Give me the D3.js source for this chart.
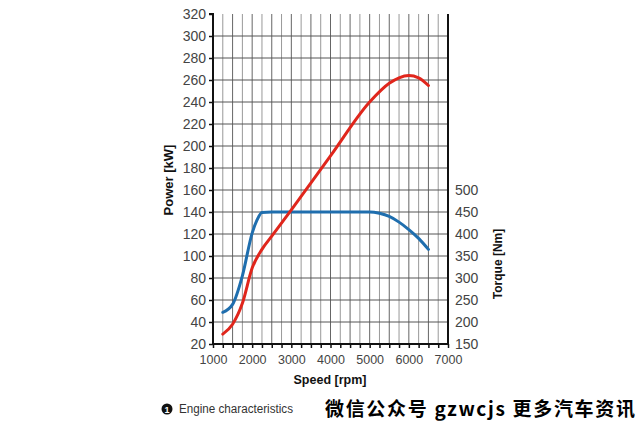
<!DOCTYPE html>
<html>
<head>
<meta charset="utf-8">
<script src="https://cdn.jsdelivr.net/npm/d3@7"></script>
<style>
  body { margin: 0; background: #fff; }
  svg { display: block; font-family: "Liberation Sans", Arial, sans-serif; }
</style>
</head>
<body>
<svg id="chart" width="640" height="426"></svg>
<script>
// power curve (red)
var powerSpeed = [1250, 1500, 1750, 2000, 2250, 2500, 3000, 4000, 5000, 5500, 5750, 6000, 6250, 6500];
var powerKw    = [29, 38, 57, 89, 106, 118, 142, 191, 240, 257, 262, 264, 262, 255];

// torque curve (blue)
var torqueSpeed = [1250, 1500, 1750, 2000, 2125, 2250, 2500, 3000, 4000, 5000, 5250, 5500, 5750, 6000, 6250, 6500];
var torqueNm    = [222, 240, 305, 402, 432, 449, 450, 450, 450, 450, 447, 440, 427, 410, 390, 365];

var powerTicks  = [20, 40, 60, 80, 100, 120, 140, 160, 180, 200, 220, 240, 260, 280, 300, 320];
var torqueTicks = [150, 200, 250, 300, 350, 400, 450, 500];
var speedTicks  = [1000, 2000, 3000, 4000, 5000, 6000, 7000];

var svg = d3.select("#chart");

var x = d3.scaleLinear().domain([1000, 7000]).range([213, 448]);
var y = d3.scaleLinear().domain([20, 320]).range([344, 14]);
// torque 150 sits on power 20, 50 Nm per 20 kW
var yT = d3.scaleLinear().domain([150, 900]).range([344, 14]);

// grid
var grid = svg.append("g");
grid.selectAll(".vg")
  .data(d3.range(1250, 7000, 250))
  .enter().append("line")
  .attr("x1", function(d) { return x(d); })
  .attr("x2", function(d) { return x(d); })
  .attr("y1", y(320)).attr("y2", y(20))
  .attr("stroke", function(d) { return d % 500 == 0 ? "#666" : "#999"; })
  .attr("stroke-width", 1);

grid.selectAll(".hg")
  .data(powerTicks.filter(function(d) { return d > 20 && d < 320; }))
  .enter().append("line")
  .attr("x1", x(1000)).attr("x2", x(7000))
  .attr("y1", function(d) { return y(d); })
  .attr("y2", function(d) { return y(d); })
  .attr("stroke", "#555")
  .attr("stroke-width", 1);

// axes
var yAxis = d3.axisLeft(y).tickValues(powerTicks).tickSize(4).tickPadding(3);
var gy = svg.append("g").attr("transform", "translate(" + x(1000) + ",0)").call(yAxis);
gy.select(".domain").attr("stroke", "#111").attr("stroke-width", 2).attr("d", "M-4," + y(320) + "H0V" + y(20));
gy.selectAll(".tick line").attr("stroke", "#111").attr("stroke-width", 1.5);
gy.selectAll(".tick text").attr("font-size", 14).attr("fill", "#444").attr("font-family", "Liberation Sans, Arial, sans-serif");

var xAxis = d3.axisBottom(x).tickValues(d3.range(1000, 7001, 250)).tickSize(4)
  .tickFormat(function(d) { return speedTicks.indexOf(d) >= 0 ? d : ""; });
var gx = svg.append("g").attr("transform", "translate(0," + y(20) + ")").call(xAxis);
gx.select(".domain").attr("stroke", "#111").attr("stroke-width", 2).attr("d", "M" + x(1000) + ",0H" + x(7000));
gx.selectAll(".tick line").attr("stroke", "#111").attr("stroke-width", 1.5);
gx.selectAll(".tick text").attr("font-size", 12.5).attr("fill", "#444").attr("dy", "1.05em")
  .attr("font-family", "Liberation Sans, Arial, sans-serif");

var tAxis = d3.axisRight(yT).tickValues(torqueTicks).tickSize(0).tickPadding(7);
var gt = svg.append("g").attr("transform", "translate(" + x(7000) + ",0)").call(tAxis);
gt.select(".domain").attr("stroke", "#111").attr("stroke-width", 2).attr("d", "M0," + y(320) + "V" + (y(20) + 1));
gt.selectAll(".tick text").attr("font-size", 14).attr("fill", "#444").attr("font-family", "Liberation Sans, Arial, sans-serif");

// curves
var torqueLine = d3.line()
  .x(function(d, i) { return x(torqueSpeed[i]); })
  .y(function(d) { return yT(d); })
  .curve(d3.curveMonotoneX);
svg.append("path")
  .attr("d", torqueLine(torqueNm))
  .attr("fill", "none")
  .attr("stroke", "#1f6eae")
  .attr("stroke-width", 3)
  .attr("stroke-linecap", "round");

var powerLine = d3.line()
  .x(function(d, i) { return x(powerSpeed[i]); })
  .y(function(d) { return y(d); })
  .curve(d3.curveMonotoneX);
svg.append("path")
  .attr("d", powerLine(powerKw))
  .attr("fill", "none")
  .attr("stroke", "#e0261c")
  .attr("stroke-width", 3)
  .attr("stroke-linecap", "round");

// titles
svg.append("text")
  .attr("transform", "translate(173,180) rotate(-90)")
  .attr("text-anchor", "middle")
  .attr("font-weight", "bold").attr("font-size", 13).attr("fill", "#111")
  .text("Power [kW]");

svg.append("text")
  .attr("transform", "translate(502,264) rotate(-90)")
  .attr("text-anchor", "middle")
  .attr("font-weight", "bold").attr("font-size", 12).attr("fill", "#111")
  .text("Torque [Nm]");

svg.append("text")
  .attr("x", 330).attr("y", 384)
  .attr("text-anchor", "middle")
  .attr("font-weight", "bold").attr("font-size", 12.5).attr("fill", "#111")
  .text("Speed [rpm]");

// caption
svg.append("circle").attr("cx", 167).attr("cy", 409).attr("r", 5.5).attr("fill", "#111");
svg.append("text").attr("x", 167).attr("y", 412.5).attr("text-anchor", "middle")
  .attr("font-size", 9).attr("font-weight", "bold").attr("fill", "#fff").text("1");
svg.append("text")
  .attr("x", 179).attr("y", 413)
  .attr("font-size", 12).attr("fill", "#333")
  .attr("textLength", 114).attr("lengthAdjust", "spacingAndGlyphs")
  .text("Engine characteristics");

svg.append("text")
  .attr("x", 325).attr("y", 416)
  .attr("font-family", "Noto Sans CJK SC, sans-serif")
  .attr("font-weight", "bold").attr("font-size", 19).attr("fill", "#000")
  .attr("textLength", 310).attr("lengthAdjust", "spacing")
  .text("微信公众号 gzwcjs 更多汽车资讯");
</script>
</body>
</html>
